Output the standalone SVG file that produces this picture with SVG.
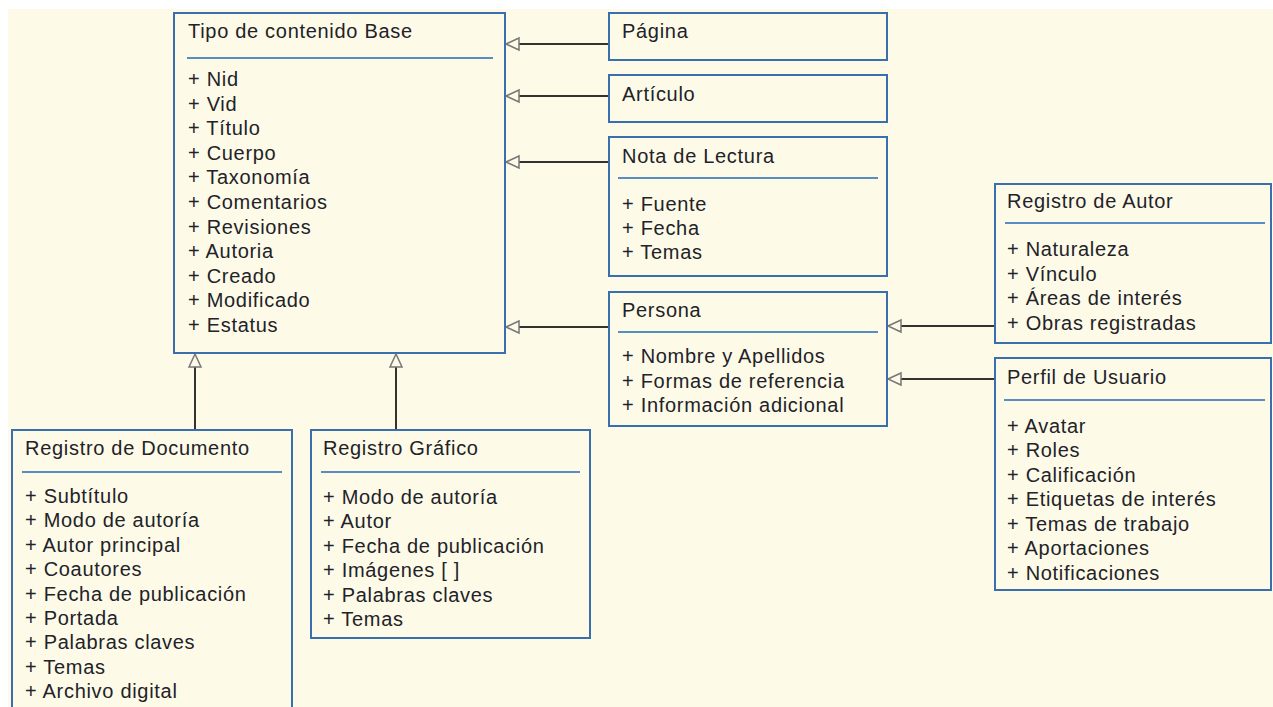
<svg xmlns="http://www.w3.org/2000/svg" width="1273" height="707" viewBox="0 0 1273 707">
<style>
.box{fill:#fdfbe8;stroke:#3a6fae;stroke-width:2}
.sep{stroke:#5a8cc4;stroke-width:2}
.t{font-family:"Liberation Sans",Arial,sans-serif;font-size:20px;letter-spacing:0.7px;fill:#222228}
.c{stroke:#333;stroke-width:2;fill:none}
</style>
<rect x="0" y="0" width="1273" height="707" fill="#ffffff"/>
<rect x="8" y="9" width="1265" height="698" fill="#fdfbe8"/>

<g id="connectors">
<path class="c" d="M609,44 H519" />
<path class="c" d="M609,96 H519" />
<path class="c" d="M609,162 H519" />
<path class="c" d="M609,327 H519" />
<path class="c" d="M995,326 H901" />
<path class="c" d="M995,379 H901" />
<path class="c" d="M195,430 V367" />
<path class="c" d="M396,430 V367" />
<g fill="#fdfbe8" stroke="#777" stroke-width="1.5">
<path d="M506,44 L519,38 L519,50 Z"/>
<path d="M506,96 L519,90 L519,102 Z"/>
<path d="M506,162 L519,156 L519,168 Z"/>
<path d="M506,327 L519,321 L519,333 Z"/>
<path d="M888,326 L901,320 L901,332 Z"/>
<path d="M888,379 L901,373 L901,385 Z"/>
<path d="M195,354 L189,367 L201,367 Z"/>
<path d="M396,354 L390,367 L402,367 Z"/>
</g>
</g>

<g id="base">
<rect class="box" x="174" y="13" width="331" height="340"/>
<text class="t" x="188" y="38">Tipo de contenido Base</text>
<line class="sep" x1="187" y1="58" x2="493" y2="58"/>
<text class="t" x="188" y="86">+ Nid</text>
<text class="t" x="188" y="110.6">+ Vid</text>
<text class="t" x="188" y="135.2">+ Título</text>
<text class="t" x="188" y="159.8">+ Cuerpo</text>
<text class="t" x="188" y="184.4">+ Taxonomía</text>
<text class="t" x="188" y="209">+ Comentarios</text>
<text class="t" x="188" y="233.6">+ Revisiones</text>
<text class="t" x="188" y="258.2">+ Autoria</text>
<text class="t" x="188" y="282.8">+ Creado</text>
<text class="t" x="188" y="307.4">+ Modificado</text>
<text class="t" x="188" y="332">+ Estatus</text>
</g>

<g id="pagina">
<rect class="box" x="609" y="13" width="278" height="47"/>
<text class="t" x="622" y="38">Página</text>
</g>

<g id="articulo">
<rect class="box" x="609" y="75" width="278" height="47"/>
<text class="t" x="622" y="101">Artículo</text>
</g>

<g id="nota">
<rect class="box" x="609" y="137" width="278" height="139"/>
<text class="t" x="622" y="163">Nota de Lectura</text>
<line class="sep" x1="618" y1="178" x2="878" y2="178"/>
<text class="t" x="622" y="211">+ Fuente</text>
<text class="t" x="622" y="235">+ Fecha</text>
<text class="t" x="622" y="259">+ Temas</text>
</g>

<g id="persona">
<rect class="box" x="609" y="292" width="278" height="134"/>
<text class="t" x="622" y="317">Persona</text>
<line class="sep" x1="618" y1="332" x2="878" y2="332"/>
<text class="t" x="622" y="363">+ Nombre y Apellidos</text>
<text class="t" x="622" y="387.5">+ Formas de referencia</text>
<text class="t" x="622" y="412">+ Información adicional</text>
</g>

<g id="autor">
<rect class="box" x="995" y="184" width="276" height="159"/>
<text class="t" x="1007" y="208">Registro de Autor</text>
<line class="sep" x1="1005" y1="223" x2="1265" y2="223"/>
<text class="t" x="1007" y="256">+ Naturaleza</text>
<text class="t" x="1007" y="280.5">+ Vínculo</text>
<text class="t" x="1007" y="305">+ Áreas de interés</text>
<text class="t" x="1007" y="329.5">+ Obras registradas</text>
</g>

<g id="perfil">
<rect class="box" x="995" y="358" width="276" height="232"/>
<text class="t" x="1007" y="384">Perfil de Usuario</text>
<line class="sep" x1="1004" y1="400" x2="1265" y2="400"/>
<text class="t" x="1007" y="432.5">+ Avatar</text>
<text class="t" x="1007" y="457">+ Roles</text>
<text class="t" x="1007" y="481.5">+ Calificación</text>
<text class="t" x="1007" y="506">+ Etiquetas de interés</text>
<text class="t" x="1007" y="530.5">+ Temas de trabajo</text>
<text class="t" x="1007" y="555">+ Aportaciones</text>
<text class="t" x="1007" y="579.5">+ Notificaciones</text>
</g>

<g id="documento">
<rect class="box" x="12" y="430" width="280" height="290"/>
<text class="t" x="25" y="455">Registro de Documento</text>
<line class="sep" x1="22" y1="472" x2="282" y2="472"/>
<text class="t" x="25" y="503">+ Subtítulo</text>
<text class="t" x="25" y="527.4">+ Modo de autoría</text>
<text class="t" x="25" y="551.8">+ Autor principal</text>
<text class="t" x="25" y="576.2">+ Coautores</text>
<text class="t" x="25" y="600.6">+ Fecha de publicación</text>
<text class="t" x="25" y="625">+ Portada</text>
<text class="t" x="25" y="649.4">+ Palabras claves</text>
<text class="t" x="25" y="673.8">+ Temas</text>
<text class="t" x="25" y="698.2">+ Archivo digital</text>
</g>

<g id="grafico">
<rect class="box" x="311" y="430" width="279" height="208"/>
<text class="t" x="323" y="455">Registro Gráfico</text>
<line class="sep" x1="321" y1="472" x2="580" y2="472"/>
<text class="t" x="323" y="504">+ Modo de autoría</text>
<text class="t" x="323" y="528.4">+ Autor</text>
<text class="t" x="323" y="552.8">+ Fecha de publicación</text>
<text class="t" x="323" y="577.2">+ Imágenes [ ]</text>
<text class="t" x="323" y="601.6">+ Palabras claves</text>
<text class="t" x="323" y="626">+ Temas</text>
</g>
</svg>
